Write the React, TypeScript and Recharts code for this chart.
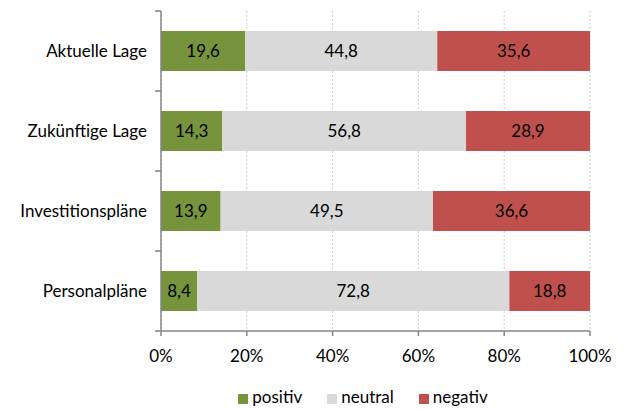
import { BarChart, Bar, XAxis, YAxis, CartesianGrid, Legend, LabelList } from "recharts";

const categories = ["Aktuelle Lage", "Zukünftige Lage", "Investitionspläne", "Personalpläne"];
const positiv = [19.6, 14.3, 13.9, 8.4];
const neutral = [44.8, 56.8, 49.5, 72.8];
const negativ = [35.6, 28.9, 36.6, 18.8];
const xTicks = [0, 20, 40, 60, 80, 100];
const seriesOrder = ["positiv", "neutral", "negativ"];

const data = categories.map((name, i) => ({
  name,
  positiv: positiv[i],
  neutral: neutral[i],
  negativ: negativ[i],
}));

const FONT = "Lato, 'Noto Sans', sans-serif";
const AXIS = "#868686";
const FS = 17;

const fmt = (v: any) => Number(v).toFixed(1).replace(".", ",");

// category label plus Excel-style tick marks between the bands
const CategoryTick = (props: any) => {
  const { x, y, payload, index, visibleTicksCount } = props;
  const half = payload?.offset ?? 0;
  const axisX = x + 14;
  return (
    <g>
      <text x={x} y={y} dy={6} textAnchor="end" fontSize={FS} fill="#000" fontFamily={FONT}>
        {payload.value}
      </text>
      {half > 0 && <line x1={axisX - 6} x2={axisX} y1={y - half} y2={y - half} stroke={AXIS} strokeWidth={1.5} />}
      {half > 0 && index === visibleTicksCount - 1 && (
        <line x1={axisX - 6} x2={axisX} y1={y + half} y2={y + half} stroke={AXIS} strokeWidth={1.5} />
      )}
    </g>
  );
};

const App = () => {
  return (
    <div style={{ position: "absolute", left: 0, top: 0 }}>
      <BarChart
        width={623}
        height={410}
        data={data}
        layout="vertical"
        barSize={40}
        margin={{ top: 11, right: 33, bottom: 49, left: 0 }}
      >
        <CartesianGrid horizontal={false} vertical stroke="#cfcfcf" strokeDasharray="2 2" />
        <XAxis
          type="number"
          domain={[0, 100]}
          ticks={xTicks}
          tickFormatter={(v) => `${v}%`}
          axisLine={{ stroke: AXIS, strokeWidth: 1.5 }}
          tickLine={{ stroke: AXIS, strokeWidth: 1.5 }}
          tickSize={5}
          tickMargin={14}
          height={30}
          tick={{ fontSize: FS, fill: "#000", fontFamily: FONT }}
        />
        <YAxis
          type="category"
          dataKey="name"
          width={161}
          axisLine={{ stroke: AXIS, strokeWidth: 1.5 }}
          tickLine={false}
          tickSize={6}
          tickMargin={8}
          tick={<CategoryTick />}
        />
        <Legend
          layout="horizontal"
          verticalAlign="middle"
          align="center"
          iconType="square"
          iconSize={10}
          itemSorter={(item: any) => seriesOrder.indexOf(item.value)}
          wrapperStyle={{ top: 386, left: 64, width: 623, fontFamily: FONT, fontSize: FS, color: "#000" }}
          formatter={(value) => <span style={{ color: "#000", marginRight: 15 }}>{value}</span>}
        />
        <Bar dataKey="positiv" stackId="a" fill="#77933C" isAnimationActive={false}>
          <LabelList dataKey="positiv" position="center" formatter={fmt} fill="#000" fontSize={FS} fontFamily={FONT} />
        </Bar>
        <Bar dataKey="neutral" stackId="a" fill="#D9D9D9" isAnimationActive={false}>
          <LabelList dataKey="neutral" position="center" formatter={fmt} fill="#000" fontSize={FS} fontFamily={FONT} />
        </Bar>
        <Bar dataKey="negativ" stackId="a" fill="#C0504D" isAnimationActive={false}>
          <LabelList dataKey="negativ" position="center" formatter={fmt} fill="#000" fontSize={FS} fontFamily={FONT} />
        </Bar>
      </BarChart>
    </div>
  );
};

export default App;
